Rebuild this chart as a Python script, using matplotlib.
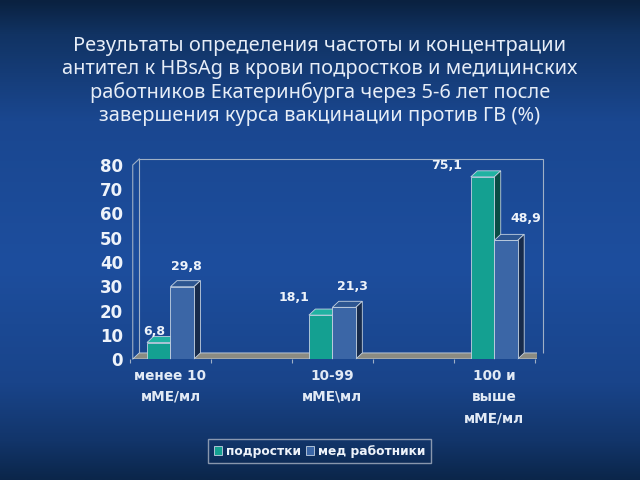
import numpy as np
import matplotlib.pyplot as plt
from matplotlib.patches import Polygon, Patch
from matplotlib.colors import LinearSegmentedColormap

# data
categories = ["менее 10\nмМЕ/мл", "10-99\nмМЕ\\мл", "100 и\nвыше\nмМЕ/мл"]
teens = [6.8, 18.1, 75.1]
medics = [29.8, 21.3, 48.9]
series_names = ["подростки", "мед работники"]
yticks = [0, 10, 20, 30, 40, 50, 60, 70, 80]
title = ("Результаты определения частоты и концентрации\n"
         "антител к HBsAg в крови подростков и медицинских\n"
         "работников Екатеринбурга через 5-6 лет после\n"
         "завершения курса вакцинации против ГВ (%)")

# label nudges in pixels (teens, medics) per category
teen_offsets = [(-4, 11), (-27, 18), (-36, 11)]
medic_offsets = [(4, 20), (8, 21), (20, 22)]

txt = '#eef3fa'
teal = dict(front='#14a091', top='#20b2a2', side='#0a4c45')
blue = dict(front='#3b66a6', top='#2d5691', side='#172b4b')
edge = '#c4d2e2'

fig = plt.figure(figsize=(6.4, 4.8), dpi=100)

# slide background
bg = fig.add_axes([0, 0, 1, 1], zorder=-10)
cmap = LinearSegmentedColormap.from_list('slide', [
    (0.0, '#0a2140'), (0.07, '#113363'), (0.25, '#1a4790'),
    (0.55, '#1d4e9e'), (0.8, '#19448a'), (0.92, '#12356a'), (1.0, '#0b264a')])
bg.imshow(np.linspace(0, 1, 256).reshape(-1, 1), cmap=cmap, aspect='auto',
          extent=[0, 1, 0, 1])
bg.axis('off')

fig.text(0.5, 1 - 81 / 480, title, ha='center', va='center', fontsize=14.4,
         family='Noto Sans', color='#e6edf7', linespacing=1.2)

ax = fig.add_axes([130 / 640, 1 - 359 / 480, (537 - 130) / 640, (359 - 165) / 480])
ax.patch.set_alpha(0)
for s in ax.spines.values():
    s.set_visible(False)

x = np.arange(len(categories))
w = 0.145
x0, x1 = -0.233, 2.264
ax.set_xlim(x0, x1)
ax.set_ylim(0, 80)
DX, DY = 0.04, 2.5

# walls and floor
ax.add_patch(Polygon([(x0, 0), (x1, 0), (x1 + DX, DY), (x0 + DX, DY)], closed=True,
                     facecolor='#8b8b82', edgecolor=edge, lw=0.6, zorder=1))
ax.add_patch(Polygon([(x0 + DX, DY), (x0 + DX, 80 + DY), (x1 + DX, 80 + DY), (x1 + DX, DY)],
                     closed=False, fill=False, edgecolor='#9fb0c6', lw=0.8, zorder=0.5,
                     clip_on=False))
ax.plot([x0, x0, x0 + DX], [0, 80, 80 + DY], color='#9fb0c6', lw=0.8, clip_on=False, zorder=0.5)


def bars3d(lefts, vals, col, z):
    ax.bar(lefts, vals, width=w, align='edge', color=col['front'], edgecolor=edge,
           lw=0.6, zorder=z + 0.2)
    for l, v in zip(lefts, vals):
        ax.add_patch(Polygon([(l, v), (l + w, v), (l + w + DX, v + DY), (l + DX, v + DY)],
                             facecolor=col['top'], edgecolor=edge, lw=0.6, zorder=z,
                             clip_on=False))
        ax.add_patch(Polygon([(l + w, 0), (l + w + DX, DY), (l + w + DX, v + DY), (l + w, v)],
                             facecolor=col['side'], edgecolor=edge, lw=0.6, zorder=z,
                             clip_on=False))


bars3d(x - w, teens, teal, 2)
bars3d(x, medics, blue, 3)


def fmt(v):
    return f"{v:.1f}".replace('.', ',')


for xi, v, off in zip(x - w / 2, teens, teen_offsets):
    ax.annotate(fmt(v), (xi, v), xytext=off, textcoords='offset pixels', ha='center',
                va='center', fontsize=9, fontweight='bold', color=txt, zorder=6,
                annotation_clip=False)
for xi, v, off in zip(x + w / 2, medics, medic_offsets):
    ax.annotate(fmt(v), (xi, v), xytext=off, textcoords='offset pixels', ha='center',
                va='center', fontsize=9, fontweight='bold', color=txt, zorder=6,
                annotation_clip=False)

ax.set_yticks(yticks)
ax.set_yticklabels([str(t) for t in yticks], fontsize=12, fontweight='bold', color=txt)
ax.tick_params(axis='y', length=0, pad=5)
ax.set_xticks(x)
ax.set_xticklabels(categories, fontsize=9.8, fontweight='bold', color='#e2eaf5',
                   linespacing=1.65)
ax.tick_params(axis='x', which='major', length=0, pad=7)
ax.set_xticks(np.arange(-0.25, 2.3, 0.5), minor=True)
ax.tick_params(axis='x', which='minor', length=3, color='#9fb0c6', width=0.8)

handles = [Patch(facecolor=teal['front'], edgecolor=edge, lw=0.6),
           Patch(facecolor=blue['front'], edgecolor=edge, lw=0.6)]
leg = fig.legend(handles, series_names, loc='center', bbox_to_anchor=(319.5 / 640, 1 - 451 / 480),
                 ncol=2, frameon=True, fancybox=False, edgecolor='#a8b2c2', facecolor='none',
                 handlelength=0.7, handleheight=0.7, handletextpad=0.3, columnspacing=0.4,
                 borderpad=0.45, prop={'weight': 'bold', 'size': 8.8})
for t in leg.get_texts():
    t.set_color(txt)

fig.savefig('out.png', dpi=100)
